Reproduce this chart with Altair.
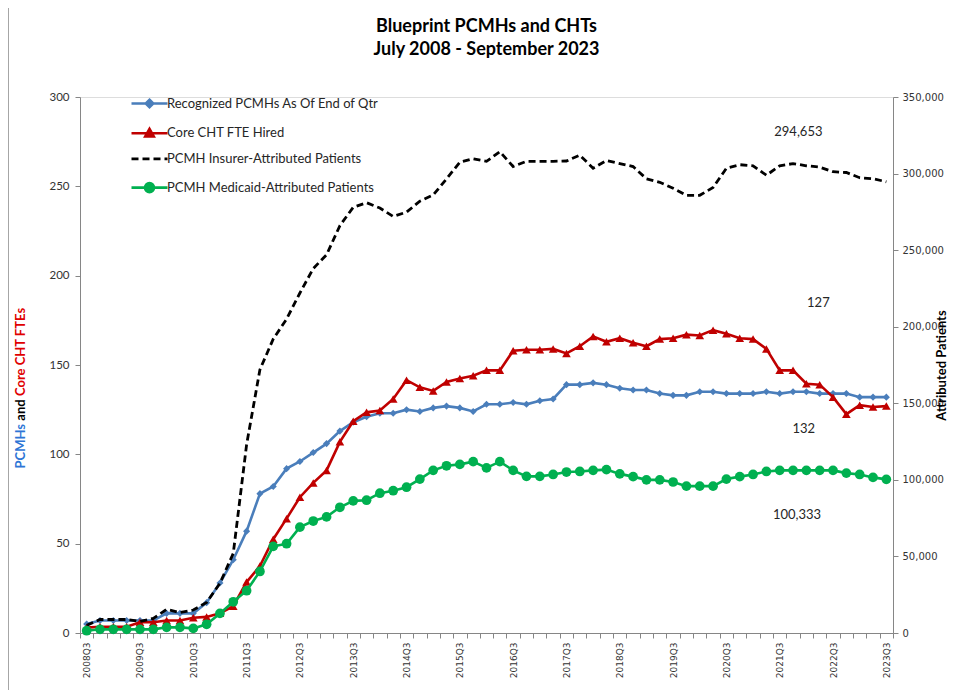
import altair as alt
import pandas as pd

# ---------------- data ----------------
quarters = []
yr, qt = 2008, 3
for _ in range(61):
    quarters.append(f"{yr}Q{qt}")
    qt += 1
    if qt == 5:
        qt = 1
        yr += 1

pcmhs = [5, 7, 7, 7, 7, 7, 11, 11, 11, 17,
         28, 41, 57, 78, 82, 92, 96, 101, 106, 113,
         118, 121, 123, 123, 125, 124, 126, 127, 126, 124,
         128, 128, 129, 128, 130, 131, 139, 139, 140, 139,
         137, 136, 136, 134, 133, 133, 135, 135, 134, 134,
         134, 135, 134, 135, 135, 134, 134, 134, 132, 132,
         132]

cht_fte = [3, 3.5, 3.5, 3.5, 6, 6, 7, 7, 8.5, 9,
           11, 15, 28.5, 37.5, 52.5, 64, 76, 84, 91, 107,
           118.5, 123.5, 124.5, 131, 141.5, 137.5, 135.5, 140.5, 142.5, 144,
           147, 147, 158, 158.5, 158.5, 159, 156.5, 160.5, 166, 163,
           165, 162.5, 160.5, 164.5, 165, 167, 166.5, 169.5, 167.5, 165,
           164.5, 159, 147, 147, 139.5, 139, 132, 122.5, 127.5, 126.5,
           127]

insurer_patients = [5000, 8800, 8800, 8800, 7500, 9500, 15500, 13300, 15000, 20000,
                    32500, 52000, 123000, 172000, 192000, 205000, 222000, 238000, 247000, 266000,
                    278000, 281000, 277500, 272000, 274800, 282000, 286000, 296500, 307400, 309700,
                    308000, 314300, 304600, 308000, 308000, 308000, 308200, 312000, 303500, 308500,
                    306500, 304600, 296600, 294300, 290400, 285800, 285800, 290900, 303500, 305800,
                    305100, 298900, 305100, 306500, 305100, 304200, 301200, 300700, 297300, 296600,
                    294653]

medicaid_patients = [1500, 2400, 2400, 2400, 2400, 2400, 3700, 3700, 3000, 5700,
                     12800, 20400, 27600, 40200, 56600, 58300, 69100, 73100, 75800, 82100,
                     86300, 86700, 91300, 92900, 95200, 100500, 106200, 109200, 110100, 111900,
                     107800, 111900, 106200, 102300, 102300, 103500, 105100, 105500, 106200, 106700,
                     103900, 102100, 100000, 100000, 98600, 95900, 95900, 95900, 100500, 102100,
                     103500, 105500, 106200, 106200, 106200, 106200, 106200, 104400, 103500, 101600,
                     100333]

series_names = ["Recognized PCMHs As Of End of Qtr", "Core CHT FTE Hired",
                "PCMH Insurer-Attributed Patients", "PCMH Medicaid-Attributed Patients"]
series_colors = ["#4A7EBB", "#C00000", "#000000", "#00B050"]

left_notes = ["127", "132"]
left_note_idx = [54.9, 53.8]
left_note_val = [184.7, 114.2]
right_notes = ["294,653", "100,333"]
right_note_idx = [53.4, 53.3]
right_note_val = [327000, 77000]

title_lines = ["Blueprint PCMHs and CHTs", "July 2008 - September 2023"]

# ---------------- frames ----------------
df = pd.DataFrame({"idx": list(range(len(quarters))), "quarter": quarters,
                   "pcmh": pcmhs, "fte": cht_fte,
                   "ins": insurer_patients, "mcd": medicaid_patients})
left_ann = pd.DataFrame({"idx": left_note_idx, "val": left_note_val, "label": left_notes})
right_ann = pd.DataFrame({"idx": right_note_idx, "val": right_note_val, "label": right_notes})
legend_df = pd.DataFrame({"series": series_names})
one = pd.DataFrame({"a": [0]})

GRAY = "#868686"
TXT = "#333333"
labels_js = "[" + ",".join(f"'{q}'" for q in quarters) + "]"

xscale = alt.Scale(domain=[-0.5, 60.5], nice=False, zero=False)
x_label_axis = alt.Axis(values=list(range(0, 61, 4)), labelExpr=f"{labels_js}[datum.value]",
                        labelAngle=270, labelFont="DejaVu Sans", labelFontSize=9,
                        labelColor=TXT, labelPadding=9, ticks=False, domain=True,
                        domainColor=GRAY, domainWidth=1, grid=False, title=None)
x_tick_axis = alt.Axis(values=[i - 0.5 for i in range(62)], labels=False, ticks=True,
                       tickSize=5, tickColor=GRAY, domain=False, grid=False, title=None,
                       orient="bottom")

yl_scale = alt.Scale(domain=[0, 300], nice=False, zero=True)
yl_axis = alt.Axis(values=list(range(0, 301, 50)), grid=False, title=None, tickSize=5,
                   tickColor=GRAY, domainColor=GRAY, labelFont="Lato", labelFontSize=11.5,
                   labelColor=TXT, labelPadding=6)
yr_scale = alt.Scale(domain=[0, 350000], nice=False, zero=True)
yr_axis = alt.Axis(orient="right", values=list(range(0, 350001, 50000)),
                   labelExpr="format(datum.value, ',')",
                   grid=False, tickSize=5, tickColor=GRAY, domainColor=GRAY,
                   labelFont="DejaVu Sans", labelFontSize=10, labelColor=TXT, labelPadding=4,
                   title="Attributed Patients", titleAngle=270, titleFont="Lato",
                   titleFontSize=13, titleFontWeight="bold", titleColor="#000000",
                   titlePadding=5)

XL = alt.X("idx:Q", scale=xscale, axis=x_label_axis)
XT = alt.X("idx:Q", scale=xscale, axis=x_tick_axis)

base = alt.Chart(df)

blue_line = base.mark_line(color=series_colors[0], strokeWidth=2.6).encode(
    x=XL, y=alt.Y("pcmh:Q", scale=yl_scale, axis=yl_axis))
blue_pts = base.mark_point(shape="diamond", filled=True, size=50, opacity=1,
                           color=series_colors[0]).encode(
    x=XL, y=alt.Y("pcmh:Q", scale=yl_scale, axis=yl_axis))
red_line = base.mark_line(color=series_colors[1], strokeWidth=2.6).encode(
    x=XL, y=alt.Y("fte:Q", scale=yl_scale, axis=yl_axis))
red_pts = base.mark_point(shape="triangle-up", filled=True, size=75, opacity=1,
                          color=series_colors[1]).encode(
    x=XL, y=alt.Y("fte:Q", scale=yl_scale, axis=yl_axis))
left_text = alt.Chart(left_ann).mark_text(font="Lato", fontSize=13, color="#262626",
                                          align="center", baseline="middle").encode(
    x=XL, y=alt.Y("val:Q", scale=yl_scale, axis=yl_axis), text="label:N")

# chart title (two centred bold lines)
ttl = dict(font="Lato", fontSize=18, fontWeight="bold", color="#000000",
           align="center", baseline="middle")
title1 = alt.Chart(one).mark_text(text=title_lines[0], **ttl).encode(
    x=alt.value(406.5), y=alt.value(-70))
title2 = alt.Chart(one).mark_text(text=title_lines[1], **ttl).encode(
    x=alt.value(406.5), y=alt.value(-47))

# multi-coloured left axis title
tfont = dict(font="Lato", fontSize=13, fontWeight="bold", angle=270, baseline="middle")
t_pcmh = alt.Chart(one).mark_text(text="PCMHs", color="#2E75D6", align="right", **tfont).encode(
    x=alt.value(-59), y=alt.value(327))
t_and = alt.Chart(one).mark_text(text="and", color="#000000", align="center", **tfont).encode(
    x=alt.value(-59), y=alt.value(313))
t_core = alt.Chart(one).mark_text(text="Core CHT FTEs", color="#E00000", align="left", **tfont).encode(
    x=alt.value(-59), y=alt.value(299))

# chart-area border (left edge of the Excel chart frame)
frame_left = alt.Chart(one).mark_rule(color="#A6A6A6", strokeWidth=1).encode(
    x=alt.value(-71.5), y=alt.value(-89), y2=alt.value(593))

paths = [
    "M-3.6,0H3.6M0,-0.75L0.75,0L0,0.75L-0.75,0Z",
    "M-3.6,0H3.6M-0.85,0.65L0.85,0.65L0,-0.85Z",
    "M-3.6,0H-2.2M-1.4,0H0M0.8,0H2.2M3.0,0H3.6",
    "M-3.6,0H3.6M-0.9,0A0.9,0.9,0,1,1,0.9,0A0.9,0.9,0,1,1,-0.9,0Z",
]
leg = alt.Legend(orient="none", legendX=63, legendY=0, title=None, labelFont="Lato",
                 labelFontSize=13, labelColor="#262626", labelOffset=11, rowPadding=10.7,
                 symbolStrokeWidth=2.6, symbolSize=100, labelLimit=400, padding=0)
legend_layer = alt.Chart(legend_df).transform_filter("false").mark_point(
    filled=True, strokeWidth=2.6, opacity=1).encode(
    shape=alt.Shape("series:N", scale=alt.Scale(domain=series_names, range=paths), legend=leg),
    fill=alt.Fill("series:N", scale=alt.Scale(domain=series_names, range=series_colors), legend=leg),
    stroke=alt.Stroke("series:N", scale=alt.Scale(domain=series_names, range=series_colors), legend=leg),
)

black_line = base.mark_line(color=series_colors[2], strokeWidth=2.8, strokeDash=[7, 4]).encode(
    x=XT, y=alt.Y("ins:Q", scale=yr_scale, axis=yr_axis))
green_line = base.mark_line(color=series_colors[3], strokeWidth=2.6).encode(
    x=XT, y=alt.Y("mcd:Q", scale=yr_scale, axis=yr_axis))
green_pts = base.mark_point(shape="circle", filled=True, size=95, opacity=1,
                            color=series_colors[3]).encode(
    x=XT, y=alt.Y("mcd:Q", scale=yr_scale, axis=yr_axis))
right_text = alt.Chart(right_ann).mark_text(font="Lato", fontSize=13, color="#262626",
                                            align="center", baseline="middle").encode(
    x=XT, y=alt.Y("val:Q", scale=yr_scale, axis=yr_axis), text="label:N")

left = alt.layer(blue_line, blue_pts, red_line, red_pts, left_text,
                 title1, title2, t_pcmh, t_and, t_core, frame_left, legend_layer)
right = alt.layer(black_line, green_line, green_pts, right_text)

chart = alt.layer(left, right).resolve_scale(y="independent").resolve_axis(
    x="independent").properties(
    width=813, height=536,
    autosize=alt.AutoSizeParams(type="none"),
    padding={"left": 72, "top": 89, "right": 55, "bottom": 57},
).configure_view(stroke=None).configure(font="Lato")

chart.save("out.html", embed_options={"renderer": "svg", "actions": False})
